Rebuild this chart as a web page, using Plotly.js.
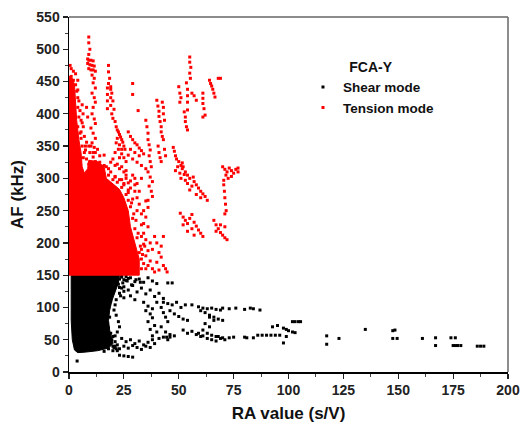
<!DOCTYPE html>
<html>
<head>
<meta charset="utf-8">
<script src="https://cdn.plot.ly/plotly-3.0.1.min.js"></script>
<style>html,body{margin:0;padding:0;background:#fff;}#chart{width:521px;height:431px;}</style>
</head>
<body>
<div id="chart"></div>
<script>
// ---- Data ----
// Dense core outlines (data coordinates)
const tensionCoreX = [0,32,32,30,28,27,25,23,20,17,16,13,9,8.5,7,6,5.5,4.5,3.5,3,2.5,1.5,0];
const tensionCoreY = [150,150,175,200,225,250,270,283,292,300,318,326,328,315,308,318,340,360,390,420,445,455,458];
const shearCoreX = [1,23,22.5,21,19.5,18.5,18,18.5,19.5,20,18,13,8,4,2.5,1.5,1,1];
const shearCoreY = [150,150,138,125,110,95,80,65,52,44,37,33,31,30,34,50,80,150];

// Tension mode (red) scattered points
const tensionX = [
 0.5,1,2,3,3.5,4,4,4.5,4,5,
 4,4.5,5,5.5,6.4,6,
 9,9,9.5,9,8.5,9,10,11,8.5,9.5,10.5,11.5,9,10,11,12,10.5,11.5,11,12,10.5,11.5,12,11,10.5,11.5,12,10,11,12,10.5,11.5,12,11,12,12.5,9,9.5,8,9,10,8.5,8,
 18,18,18.5,18,19,19,19.5,19,20,19,20.5,19.5,20,17.5,17.5,17.5,17.5,
 21,21.5,22,22.5,23,23.5,24,24.5,25,25.5,22,23,24,21.5,22.5,24,25,26,21,23,20,22,24,26,18,16,14,
 29,29,31.5,
 27,28,29,30,31,32,33,34,28,30,32,27,29,31,33,35,
 35,35.5,36,36,36.5,37,36.5,37,37.5,36,37,38,36.5,37.5,38,36,
 40,40.5,41,41,41.5,42,42,42.5,43,42.5,43,43,43.5,
 40.6,41,41.5,42,43.5,44,
 47.5,48,48.5,49,50,51,51.6,49.5,48.5,50.5,
 50,50.5,51,50.5,52.5,53,53,53.5,54,53.5,54,54,54,54,
 55,55,55.5,55,55.3,56,57,58,
 51.6,52,53,52.5,54,51,53,55,56.6,57,58,59,60,61,62,63,58,60,56,54,55,
 61,61,61,61.5,62,61,64,64.5,65,65.5,66,66.5,68,69,
 70,71,72,73,74,75,76,77,71.5,72.5,70.5,74,77,
 70.5,70.8,71,71.3,71.6,71,
 34,35,34.5,36,35,37,36,38,39,40,41,42,43,44,44.7,37,38,39,40,42,43,41,35,33,33,33,34,33,32,34,35,36,31,30,28,32,35,36,
 50.7,52,53,54,55,56,57,58,59,60,61,54,56,52,57,
 66,67,68,69,70,71,72,67,69,71,
 18,21,24,27,30,33,29,26,15,13,
 33,34,33.5,32.5,31.5,30.5,29.5,28.5,27,25,23,21,19,17,14,11,
 26,28,30,31,25,23,21,19,16,13,10,7.5,7,6.5,
 32,31,30,29,28,27,26,24,22,20,33,34,31,29,27,25,
 6,5.5,7,3,2,1,4,5.5,6.5,7.5,8,6
];
const tensionY = [
 475,458,452,445,435,425,410,395,380,370,
 437,420,405,390,400,414,
 519,510,500,492,485,483,483,482,478,476,475,474,470,468,468,466,460,455,448,440,432,425,418,410,400,392,385,378,370,362,355,348,340,333,326,318,350,340,330,322,315,395,410,
 475,465,455,447,442,438,432,425,420,413,407,400,393,440,430,420,408,
 388,380,375,372,368,364,360,356,350,345,362,352,345,355,345,338,332,326,340,332,330,322,318,312,315,320,325,
 447,430,405,
 372,365,360,355,352,347,343,338,345,340,335,336,330,325,320,315,
 390,380,370,360,352,344,335,326,318,310,302,295,288,280,272,266,
 421,412,404,396,388,380,372,365,360,418,410,400,390,
 350,340,332,326,345,335,
 348,342,335,330,326,320,315,318,312,308,
 442,432,425,418,403,395,388,380,375,448,438,428,418,406,
 488,480,472,463,455,432,428,421,
 324,318,310,306,305,300,297,300,302,295,290,285,280,276,272,266,275,270,288,292,282,
 432,424,416,408,398,395,452,447,443,438,432,426,455,455,
 318,314,310,316,312,308,314,310,305,300,297,303,316,
 290,280,270,260,250,245,
 215,205,195,188,180,172,165,160,155,170,185,178,165,160,155,200,190,210,200,195,210,158,160,175,190,210,230,245,260,250,240,225,270,280,285,280,265,255,
 246,240,235,230,238,244,232,226,220,215,210,218,222,228,212,
 235,228,222,216,212,208,205,218,228,225,
 305,302,298,293,290,300,305,305,310,300,
 160,168,182,195,215,235,245,262,278,290,298,303,310,318,335,340,
 300,296,300,292,310,315,320,325,336,345,350,350,365,380,
 185,208,222,238,256,266,275,286,294,298,228,198,250,268,282,292,
 350,362,340,462,466,470,452,372,332,344,356,386
];

// Shear mode (black) scattered points
const shearX = [
 24,26,28,30,32,34,36,38,40,45,25,27,29,31,33,35,37,39,41,43,23,25,28,30,47,
 18,19,18,17.5,18.5,17.5,18,19,20,18,19,21,20,
 34,36,35,37,38,36,39,37,40,38,41,42,43,44,45,42,44,43,46,45,40,38,
 24,26,28,30,32,34,36,38,25,27,29,31,33,35,21,23,18,20,16,37,39,
 23,25,27,29,3.7,
 43,45,47,49,51,53,46,48,50,52,54,56,61,63,65,67,69,62,64,66,68,70,52,54,56,58,60,61,63,65,67,69,71,73,75,44.5,46,48,80,86,88,90,
 70,73,76,80,84,87,82.6,59,60,64,66,59,61,63,65,67,68,70,64,62,81,84,
 92,94,96,92.7,95,97.7,99,100,101.8,97.7,99,101.8,103,104.5,105.5,103,117.4,117.4,123,135,147.5,148.5,147.5,149.5,161,167,167,174,176,175,176,177,178.5,186,187.5,189,
 22,23,24,25,26,27,22.5,24.5,26.5,28.5,30.5,32.5,21,23,20,19,21,22,20.5,19.5,21.5,19,20,22,
 24,25,23.5,21.5,21,20.5,21.5,22.5,23,22,21
];
const shearY = [
 147,142,146,140,144,139,146,141,137,138,132,127,134,124,130,121,127,117,122,114,122,115,118,112,138,
 120,110,100,92,85,75,68,60,55,118,130,135,128,
 108,102,95,90,84,78,72,66,62,56,52,100,92,85,78,70,62,54,58,50,108,98,
 52,47,50,44,48,42,46,50,40,37,41,38,35,40,40,36,36,33,32,38,44,
 26,25,24,23,17,
 108,106,104,108,100,104,95,90,86,82,80,104,99,98,99,97,96,92,88,85,82,80,65,60,63,58,55,65,60,57,55,52,50,53,54,54,54,56,54,57,57,57,
 99,98,99,97,98,96,99,101,95,85,80,60,56,52,50,48,55,53,70,75,53,53,
 57,57,57,70,72,68,66,64,62,45,55,78,78,78,78,61,56,43,52,66,64,65,52,52,52,53,41,53,53,41,41,41,41,40,40,40,
 148,144,149,143,148,145,136,138,141,135,143,139,142,131,146,140,47,42,38,50,36,45,40,33,
 130,125,118,112,104,96,88,78,70,62,56
];

const seriesNames = ['Shear mode', 'Tension mode'];
const legendTitle = 'FCA-Y';
const xTitle = 'RA value (s/V)';
const yTitle = 'AF (kHz)';

// ---- Styling ----
const FONT = 'Liberation Sans, Arial, Helvetica, sans-serif';
const RED = '#ff0000';
const BLACK = '#000000';

const traces = [
  {x: shearCoreX, y: shearCoreY, type: 'scatter', mode: 'lines', fill: 'toself',
   fillcolor: BLACK, line: {color: BLACK, width: 1}, showlegend: false, hoverinfo: 'skip'},
  {x: shearX, y: shearY, type: 'scatter', mode: 'markers', name: seriesNames[0],
   marker: {symbol: 'square', size: 3, color: BLACK}},
  {x: tensionCoreX, y: tensionCoreY, type: 'scatter', mode: 'lines', fill: 'toself',
   fillcolor: RED, line: {color: RED, width: 1}, showlegend: false, hoverinfo: 'skip'},
  {x: tensionX, y: tensionY, type: 'scatter', mode: 'markers', name: seriesNames[1],
   marker: {symbol: 'square', size: 3, color: RED}}
];

const tickFont = {family: FONT, size: 14, color: '#222', weight: 'bold'};
const titleFont = {family: FONT, size: 17, color: '#111', weight: 'bold'};

const layout = {
  width: 521, height: 431,
  margin: {l: 69, r: 13, t: 17, b: 59},
  paper_bgcolor: '#fff', plot_bgcolor: '#fff',
  showlegend: true,
  xaxis: {
    range: [0, 200], tick0: 0, dtick: 25,
    ticks: 'outside', ticklen: 5, tickwidth: 1.2, tickcolor: '#222',
    showline: true, linecolor: '#000', linewidth: 1.5,
    showgrid: false, zeroline: false,
    minor: {dtick: 12.5, ticks: 'outside', ticklen: 3, tickwidth: 1, tickcolor: '#444', showgrid: false},
    tickfont: tickFont,
    title: {text: xTitle, font: titleFont, standoff: 10}
  },
  yaxis: {
    range: [0, 550], tick0: 0, dtick: 50,
    ticks: 'outside', ticklen: 5, tickwidth: 1.2, tickcolor: '#222',
    showline: true, linecolor: '#000', linewidth: 1.5,
    showgrid: false, zeroline: false,
    minor: {dtick: 25, ticks: 'outside', ticklen: 3, tickwidth: 1, tickcolor: '#444', showgrid: false},
    tickfont: tickFont,
    title: {text: yTitle, font: titleFont, standoff: 8}
  },
  legend: {
    x: 0.533, y: 0.897, xanchor: 'left', yanchor: 'top',
    bgcolor: 'rgba(0,0,0,0)', borderwidth: 0,
    font: {family: FONT, size: 13.5, color: '#111', weight: 'bold'},
    title: {text: legendTitle, side: 'top center', font: {family: FONT, size: 14, color: '#111', weight: 'bold'}},
    tracegroupgap: 0
  },
  shapes: [
    {type: 'line', xref: 'paper', yref: 'paper', x0: 0, x1: 1, y0: 1, y1: 1, line: {color: '#666', width: 1.5}},
    {type: 'line', xref: 'paper', yref: 'paper', x0: 1, x1: 1, y0: 0, y1: 1, line: {color: '#666', width: 1.5}}
  ]
};

Plotly.newPlot('chart', traces, layout, {displayModeBar: false, staticPlot: true});
</script>
</body>
</html>
